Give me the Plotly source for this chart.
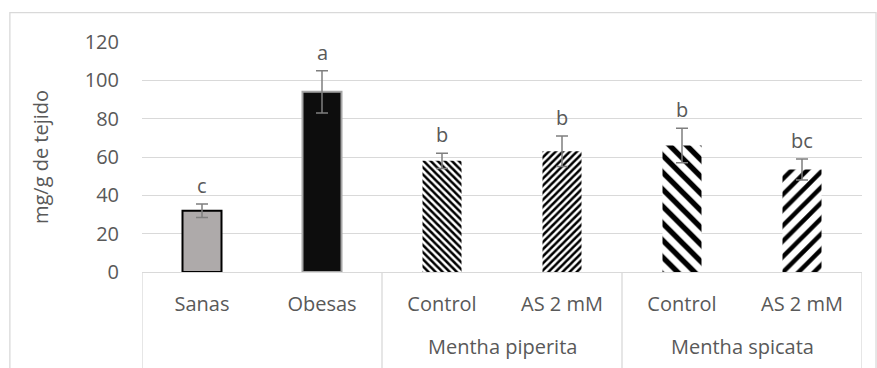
import plotly.graph_objects as go

# Data
groups = ["", "", "Mentha piperita", "Mentha piperita", "Mentha spicata", "Mentha spicata"]
treatments = ["Sanas", "Obesas", "Control", "AS 2 mM", "Control", "AS 2 mM"]
values = [32, 94, 58, 63, 66, 53.5]
errors = [3.5, 11, 4, 8, 9, 5.5]
letters = ["c", "a", "b", "b", "b", "bc"]
y_ticks = [0, 20, 40, 60, 80, 100, 120]

FONT = "Open Sans"
TXT = "#595959"
GRID = "#d9d9d9"
FS = 20

# per-bar fill style: (fill colour, outline colour, outline width, pattern shape, pattern size, solidity)
styles = [
    ("#aeaaaa", "#000000", 2, "", 0, 0),
    ("#0d0d0d", "#a6a6a6", 2, "", 0, 0),
    ("white", "white", 0, "\\", 5, 0.5),
    ("white", "white", 0, "/", 5, 0.5),
    ("white", "white", 0, "\\", 12, 0.45),
    ("white", "white", 0, "/", 11, 0.4),
]

x = list(range(len(values)))

fig = go.Figure()
for xi, v, e, st in zip(x, values, errors, styles):
    fill, edge, lw, shape, psize, solid = st
    marker = dict(color=fill, line=dict(color=edge, width=lw))
    if shape:
        marker = dict(
            color="black",
            line=dict(width=0),
            pattern=dict(shape=shape, size=psize, solidity=solid,
                         fgcolor="black", bgcolor="white", fillmode="replace"),
        )
    fig.add_trace(go.Bar(
        x=[xi], y=[v], width=0.325,
        error_y=dict(type="data", array=[e], visible=True,
                     color="#7f7f7f", thickness=1.5, width=6),
        marker=marker,
        showlegend=False, hoverinfo="skip",
    ))

# significance letters above the error bars
for xi, v, e, t in zip(x, values, errors, letters):
    fig.add_annotation(x=xi, y=v + e, text=t, showarrow=False,
                       yanchor="bottom", yshift=3,
                       font=dict(family=FONT, size=FS, color=TXT))

# group labels under the treatment labels
group_names = []
for g in groups:
    if g and g not in group_names:
        group_names.append(g)
for g in group_names:
    idx = [i for i, gg in enumerate(groups) if gg == g]
    fig.add_annotation(x=sum(idx) / len(idx), xref="x", y=-0.325, yref="paper",
                       text=g, showarrow=False, yanchor="middle",
                       font=dict(family=FONT, size=FS, color=TXT))

# group dividers below the axis
bounds = [-0.5]
for i in range(1, len(groups)):
    if groups[i] != groups[i - 1]:
        bounds.append(i - 0.5)
bounds.append(len(groups) - 0.5)
for b in bounds:
    fig.add_shape(type="line", xref="x", yref="paper", x0=b, x1=b, y0=0, y1=-0.45,
                  line=dict(color=GRID, width=1.3))

# chart border
fig.add_shape(type="rect", xref="paper", yref="paper",
              x0=-0.1835, x1=1.0195, y0=-0.45, y1=1.128,
              line=dict(color=GRID, width=1.3), layer="below")

fig.update_layout(
    width=877, height=368,
    margin=dict(l=142, r=15, t=42, b=96, autoexpand=False),
    paper_bgcolor="white",
    plot_bgcolor="white",
    font=dict(family=FONT, size=FS, color=TXT),
    barmode="overlay",
)
fig.update_xaxes(
    range=[-0.5, len(values) - 0.5],
    tickmode="array", tickvals=x, ticktext=treatments,
    showgrid=False, zeroline=False,
    showline=True, linecolor=GRID, linewidth=1.3,
    ticks="", ticklabelstandoff=14,
    tickfont=dict(family=FONT, size=FS, color=TXT),
)
fig.update_yaxes(
    range=[0, 120],
    tickmode="array", tickvals=y_ticks,
    showgrid=True, gridcolor=GRID, gridwidth=1.3,
    zeroline=False, showline=False,
    ticks="", ticklabelstandoff=22,
    tickfont=dict(family=FONT, size=FS, color=TXT),
    title=dict(text="mg/g de tejido", standoff=30,
               font=dict(family=FONT, size=FS, color=TXT)),
)

fig.write_html("out.html")
